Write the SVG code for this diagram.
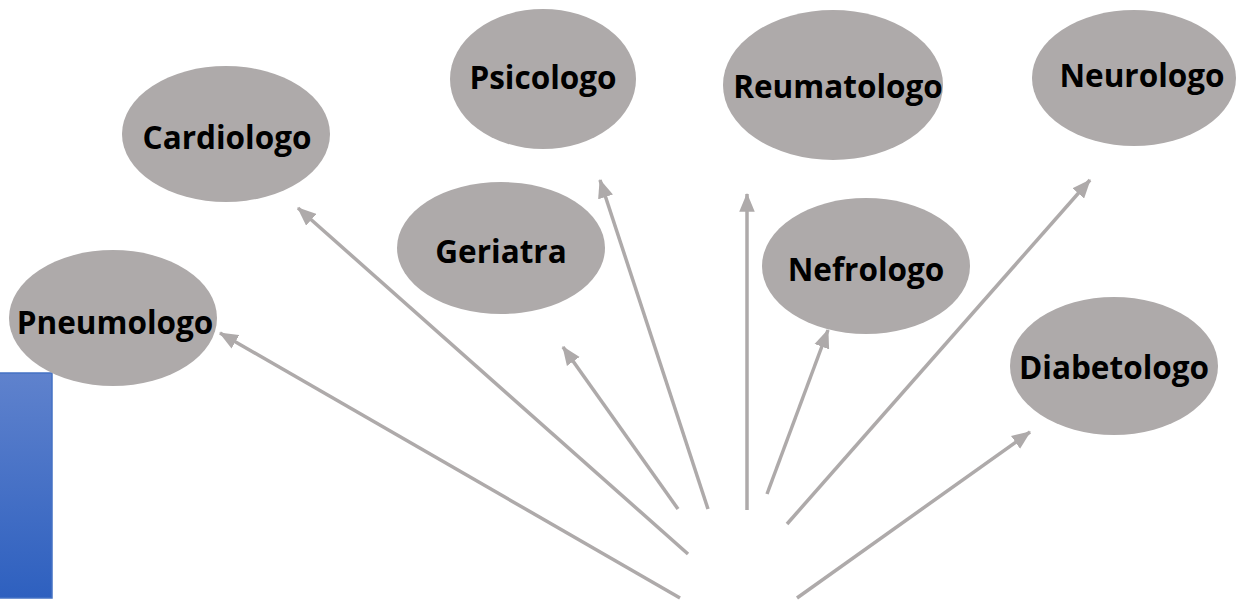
<svg xmlns="http://www.w3.org/2000/svg" width="1256" height="606" viewBox="0 0 1256 606">
<style>
.node ellipse{fill:#aeaaaa;}
.node text{font-family:"Open Sans","Noto Sans","Liberation Sans",sans-serif;font-weight:bold;font-size:31.5px;fill:#000;text-anchor:middle;}
.conn line{stroke:#aeaaaa;stroke-width:3.5;marker-end:url(#ah);}
</style>
<defs>
<marker id="ah" markerUnits="userSpaceOnUse" markerWidth="20" markerHeight="16" refX="16" refY="7" orient="auto" viewBox="0 0 18 14">
<path d="M0,0 L17,7 L0,14 Z" fill="#aeaaaa"/>
</marker>
<linearGradient id="bg" x1="0" y1="0" x2="0" y2="1">
<stop offset="0" stop-color="#5f82cd"/>
<stop offset="1" stop-color="#2e60bf"/>
</linearGradient>
</defs>
<rect x="-2" y="373" width="54" height="225" fill="url(#bg)" stroke="#4472c4" stroke-width="1.5"/>
<g id="pneumologo" class="node"><ellipse cx="113" cy="318" rx="104" ry="68"/><text x="115" y="334">Pneumologo</text></g>
<g id="cardiologo" class="node"><ellipse cx="226" cy="134" rx="104" ry="68"/><text x="227" y="149">Cardiologo</text></g>
<g id="psicologo" class="node"><ellipse cx="543" cy="79" rx="93" ry="70"/><text x="543" y="89">Psicologo</text></g>
<g id="geriatra" class="node"><ellipse cx="501" cy="248" rx="104" ry="66"/><text x="501" y="263">Geriatra</text></g>
<g id="reumatologo" class="node"><ellipse cx="833" cy="85" rx="110" ry="75"/><text x="838" y="98">Reumatologo</text></g>
<g id="nefrologo" class="node"><ellipse cx="866" cy="266" rx="104" ry="68"/><text x="866" y="281">Nefrologo</text></g>
<g id="neurologo" class="node"><ellipse cx="1134" cy="78" rx="102" ry="68"/><text x="1142" y="87">Neurologo</text></g>
<g id="diabetologo" class="node"><ellipse cx="1114" cy="366" rx="104" ry="69"/><text x="1114" y="379">Diabetologo</text></g>
<g id="connectors" class="conn">
<line x1="680" y1="598" x2="220" y2="333"/>
<line x1="688" y1="554" x2="298" y2="208"/>
<line x1="678" y1="509" x2="563" y2="347"/>
<line x1="708" y1="509" x2="600" y2="180"/>
<line x1="747" y1="510" x2="747" y2="194"/>
<line x1="767" y1="494" x2="828" y2="330"/>
<line x1="787" y1="524" x2="1090" y2="180"/>
<line x1="797" y1="598" x2="1030" y2="432"/>
</g>
</svg>
